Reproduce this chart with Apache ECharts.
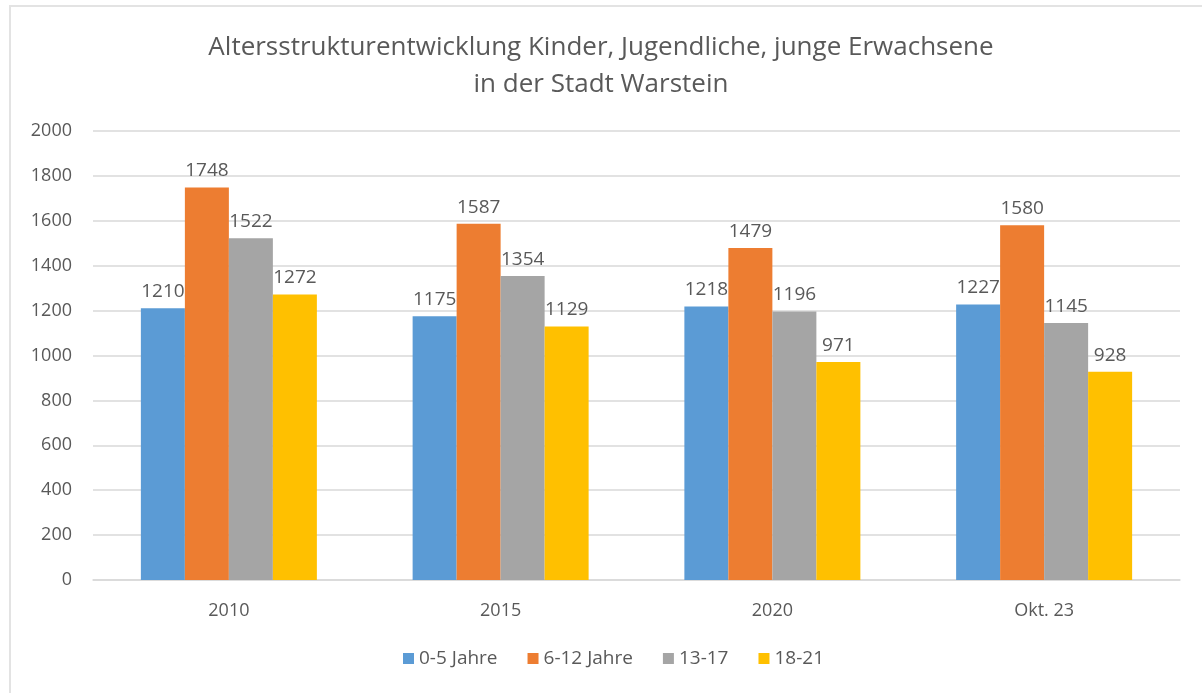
<!DOCTYPE html>
<html>
<head>
<meta charset="utf-8">
<script src="https://cdn.jsdelivr.net/npm/echarts@6/dist/echarts.min.js"></script>
<style>
  html, body { margin: 0; padding: 0; background: #fff; }
  #frame { position: absolute; left: 9px; top: 5px; width: 1193px; height: 688px;
           border-left: 2px solid #e3e3e3; border-top: 2px solid #e3e3e3; }
  #chart { position: absolute; left: 0; top: 0; width: 1202px; height: 693px; }
</style>
</head>
<body>
<div id="frame"></div>
<div id="chart"></div>
<script>
var categories = ['2010', '2015', '2020', 'Okt. 23']
var seriesNames = ['0-5 Jahre', '6-12 Jahre', '13-17', '18-21']
var age0to5 = [1210, 1175, 1218, 1227]
var age6to12 = [1748, 1587, 1479, 1580]
var age13to17 = [1522, 1354, 1196, 1145]
var age18to21 = [1272, 1129, 971, 928]
var colors = ['#5B9BD5', '#ED7D31', '#A5A5A5', '#FFC000']

var font = "'Open Sans', sans-serif"
var textColor = '#595959'

function makeSeries(name, data) {
  return {
    name: name,
    type: 'bar',
    barWidth: 44,
    barGap: '0%',
    data: data,
    label: {
      show: true,
      position: 'top',
      distance: 7,
      color: textColor,
      fontSize: 19,
      fontFamily: font
    }
  }
}

var chart = echarts.init(document.getElementById('chart'))
var option = {
  color: colors,
  animation: false,
  title: {
    text: 'Altersstrukturentwicklung Kinder, Jugendliche, junge Erwachsene\nin der Stadt Warstein',
    left: 'center',
    top: 24,
    textStyle: {
      color: textColor,
      fontSize: 26,
      fontWeight: 'normal',
      fontFamily: font,
      lineHeight: 37
    }
  },
  legend: {
    bottom: 20,
    left: 398,
    itemWidth: 11,
    itemHeight: 11,
    itemGap: 30,
    icon: 'rect',
    textStyle: { color: textColor, fontSize: 19, fontFamily: font }
  },
  grid: {
    left: 93,
    right: 22,
    top: 131,
    bottom: 113
  },
  xAxis: {
    type: 'category',
    data: categories,
    axisTick: { show: false },
    axisLine: { lineStyle: { color: '#d9d9d9', width: 1.5 } },
    axisLabel: { color: textColor, fontSize: 18, fontFamily: font, margin: 22 }
  },
  yAxis: {
    type: 'value',
    min: 0,
    max: 2000,
    interval: 200,
    axisLine: { show: false },
    axisTick: { show: false },
    splitLine: { lineStyle: { color: '#d9d9d9', width: 1.5 } },
    axisLabel: {
      color: textColor, fontSize: 18, fontFamily: font, margin: 21,
      formatter: function (v) { return String(v) }
    }
  },
  series: [
    makeSeries(seriesNames[0], age0to5),
    makeSeries(seriesNames[1], age6to12),
    makeSeries(seriesNames[2], age13to17),
    makeSeries(seriesNames[3], age18to21)
  ]
}
chart.setOption(option)
</script>
</body>
</html>
